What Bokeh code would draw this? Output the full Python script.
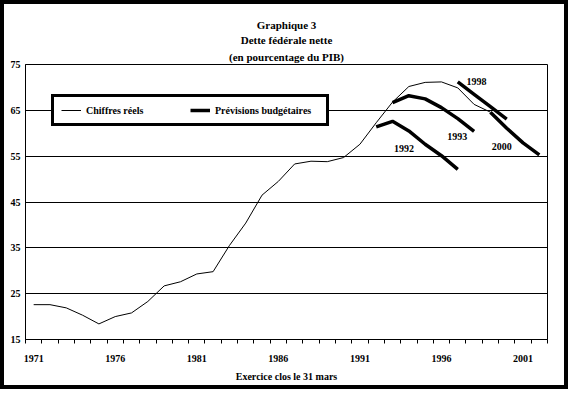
from bokeh.plotting import figure
from bokeh.models import FixedTicker, Range1d, Legend, LegendItem, Title
from bokeh.embed import file_html
from bokeh.resources import INLINE
from bokeh.core.properties import value

# ---- data ----
actual_years = list(range(1971, 2000))
actual_debt = [22.6, 22.6, 21.9, 20.3, 18.4, 20.0, 20.8, 23.3, 26.7, 27.6,
               29.3, 29.8, 35.5, 40.4, 46.5, 49.5, 53.3, 53.9, 53.8, 54.7,
               57.6, 62.3, 66.8, 70.2, 71.1, 71.2, 69.9, 66.3, 64.6]

b1992_years = [1992, 1993, 1994, 1995, 1996, 1997]
b1992_vals = [61.4, 62.6, 60.5, 57.6, 55.1, 52.1]

b1993_years = [1993, 1994, 1995, 1996, 1997, 1998]
b1993_vals = [66.7, 68.2, 67.5, 65.6, 63.2, 60.4]

b1998_years = [1997, 1998, 1999, 2000]
b1998_vals = [71.2, 68.5, 65.8, 63.1]

b2000_years = [1999, 2000, 2001, 2002]
b2000_vals = [64.6, 61.1, 57.9, 55.3]

budget_names = ["1992", "1993", "1998", "2000"]
budget_label_x = [1993.7, 1996.97, 1998.14, 1999.69]
budget_label_y = [56.7, 59.3, 71.2, 57.2]

x_tick_years = [1971, 1976, 1981, 1986, 1991, 1996, 2001]
y_ticks = [15, 25, 35, 45, 55, 65, 75]

title_lines = ["Graphique 3", "Dette fédérale nette", "(en pourcentage du PIB)"]
x_title = "Exercice clos le 31 mars"
legend_labels = ["Chiffres réels", "Prévisions budgétaires"]

FONT = "Liberation Serif"
W, H = 568, 389

p = figure(width=W, height=H, title=None,
           x_range=Range1d(1970.5, 2002.5), y_range=Range1d(15, 75),
           output_backend="svg", toolbar_location=None,
           min_border_left=25, min_border_right=21, min_border_top=64, min_border_bottom=50)
# thick outer frame: the canvas margin is transparent so the element's inset frame shows
p.styles = {"background-color": "white", "box-shadow": "inset 0 0 0 4px black",
            "outline": "4px solid black", "outline-offset": "-4px"}
p.background_fill_color = "white"
p.border_fill_alpha = 0
p.outline_line_color = "black"
p.outline_line_width = 1

# grid
p.xgrid.visible = False
p.ygrid.ticker = FixedTicker(ticks=y_ticks)
p.ygrid.grid_line_color = "black"
p.ygrid.grid_line_width = 1

# x axis
xa = p.xaxis[0]
xa.ticker = FixedTicker(ticks=x_tick_years, minor_ticks=[1970.5 + i for i in range(33)])
xa.major_tick_out = 0
xa.major_tick_in = 0
xa.minor_tick_out = 4
xa.minor_tick_in = 0
xa.minor_tick_line_color = "black"
xa.axis_line_color = "black"
xa.major_label_standoff = 11
xa.major_label_text_font = FONT
xa.major_label_text_font_style = "bold"
xa.major_label_text_font_size = "10px"
xa.major_label_text_color = "black"
xa.axis_label = x_title
xa.axis_label_standoff = 6
xa.axis_label_text_font = FONT
xa.axis_label_text_font_style = "bold"
xa.axis_label_text_font_size = "10px"
xa.axis_label_text_color = "black"

# y axis
ya = p.yaxis[0]
ya.ticker = FixedTicker(ticks=y_ticks)
ya.major_tick_out = 0
ya.major_tick_in = 0
ya.minor_tick_out = 0
ya.minor_tick_in = 0
ya.axis_line_color = "black"
ya.major_label_standoff = 5
ya.major_label_text_font = FONT
ya.major_label_text_font_style = "bold"
ya.major_label_text_font_size = "10px"
ya.major_label_text_color = "black"

# lines
r_actual = p.line(actual_years, actual_debt, line_color="black", line_width=1)
r92 = p.line(b1992_years, b1992_vals, line_color="black", line_width=3.5)
p.line(b1993_years, b1993_vals, line_color="black", line_width=3.5)
p.line(b1998_years, b1998_vals, line_color="black", line_width=3.5)
p.line(b2000_years, b2000_vals, line_color="black", line_width=3.5)

p.text(x=budget_label_x, y=budget_label_y, text=budget_names,
       text_font=value(FONT), text_font_style="bold", text_font_size="10px",
       text_align="center", text_baseline="middle", text_color="black")

# legend
legend = Legend(items=[LegendItem(label=legend_labels[0], renderers=[r_actual]),
                       LegendItem(label=legend_labels[1], renderers=[r92])],
                orientation="horizontal", location=(26, 213))
legend.border_line_color = "black"
legend.border_line_width = 3
legend.border_line_alpha = 1
legend.background_fill_color = "white"
legend.background_fill_alpha = 1
legend.label_text_font = FONT
legend.label_text_font_style = "bold"
legend.label_text_font_size = "10px"
legend.label_text_color = "black"
legend.glyph_width = 20
legend.glyph_height = 12
legend.label_height = 12
legend.label_width = 104
legend.label_standoff = 5
legend.spacing = 0
legend.padding = 7
legend.margin = 0
p.add_layout(legend, "center")

# titles: added from the one nearest the plot outward
title_standoffs = [1, 1, 4]
for t, so in reversed(list(zip(title_lines, title_standoffs))):
    p.add_layout(Title(text=t, align="center", standoff=so,
                       text_font=FONT, text_font_style="bold", text_font_size="11px",
                       text_color="black"), "above")

open("out.html", "w").write(file_html(p, INLINE))
